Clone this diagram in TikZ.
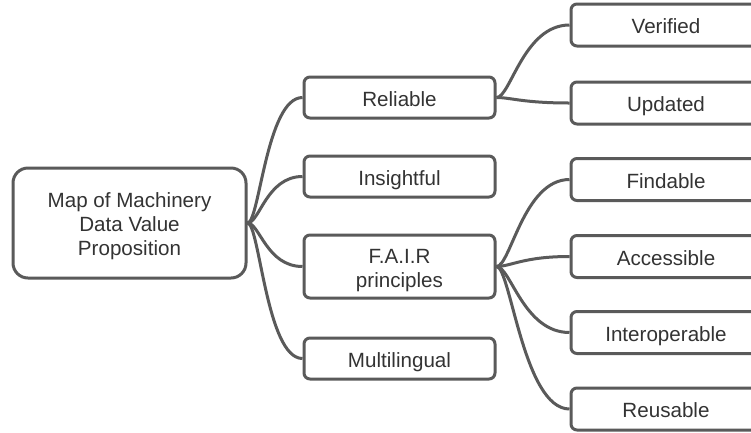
\documentclass[tikz,border=0pt]{standalone}
\usepackage{fontspec}
\setmainfont{Liberation Sans}
\usetikzlibrary{calc}
\definecolor{edge}{HTML}{5A5A5A}
\definecolor{txt}{HTML}{333333}
\newcommand{\mlines}[2]{\raisebox{#1}[\height][\depth]{\begin{tabular}{@{}c@{}}#2\end{tabular}}}
\tikzset{
  boxbase/.style={draw=edge, line width=3pt, rounded corners=6pt, fill=white,
    minimum width=191pt, minimum height=41pt, inner sep=0pt,
    text=txt, font=\fontsize{20.6}{24}\selectfont},
  box/.style={boxbase, text height=17.5pt, text depth=0pt},
  rootbox/.style={boxbase, rounded corners=15pt, minimum width=233pt, minimum height=110pt},
  leafbox/.style={box, minimum width=190pt, minimum height=42pt},
  link/.style={draw=edge, line width=3pt},
}
\newcommand{\linkA}[2]{\draw[link] (#1.east) .. controls ($(#1.east)+(12,0)$) and ($(#2.west)+(-36,0)$) .. (#2.west);}
\newcommand{\linkB}[2]{\draw[link] (#1.east) .. controls ($(#1.east)+(14,0)$) and ($(#2.west)+(-46,0)$) .. (#2.west);}
\begin{document}
\begin{tikzpicture}[x=1pt,y=-1pt]
\useasboundingbox (0,0) rectangle (751,432);
\clip (0,0) rectangle (751,432);
\fill[white] (0,0) rectangle (751,432);
\node[rootbox] (root) at (129.5,223) {\mlines{-4pt}{Map of Machinery\\Data Value\\Proposition}};
\node[box] (rel) at (399.5,97.5) {Reliable};
\node[box] (ins) at (399.5,176.5) {Insightful};
\node[boxbase, minimum height=63pt] (fair) at (399.5,266.5) {\mlines{-4pt}{F.A.I.R\\principles}};
\node[box] (mul) at (399.5,358.5) {Multilingual};
\node[leafbox] (ver) at (666,25) {Verified};
\node[leafbox] (upd) at (666,103) {Updated};
\node[leafbox] (fin) at (666,179.5) {Findable};
\node[leafbox] (acc) at (666,256.5) {Accessible};
\node[leafbox] (int) at (666,332.5) {Interoperable};
\node[leafbox] (reu) at (666,409) {Reusable};
\linkA{root}{rel}
\linkA{root}{ins}
\linkA{root}{fair}
\linkA{root}{mul}
\linkB{rel}{ver}
\linkB{rel}{upd}
\linkB{fair}{fin}
\linkB{fair}{acc}
\linkB{fair}{int}
\linkB{fair}{reu}
\end{tikzpicture}
\end{document}
